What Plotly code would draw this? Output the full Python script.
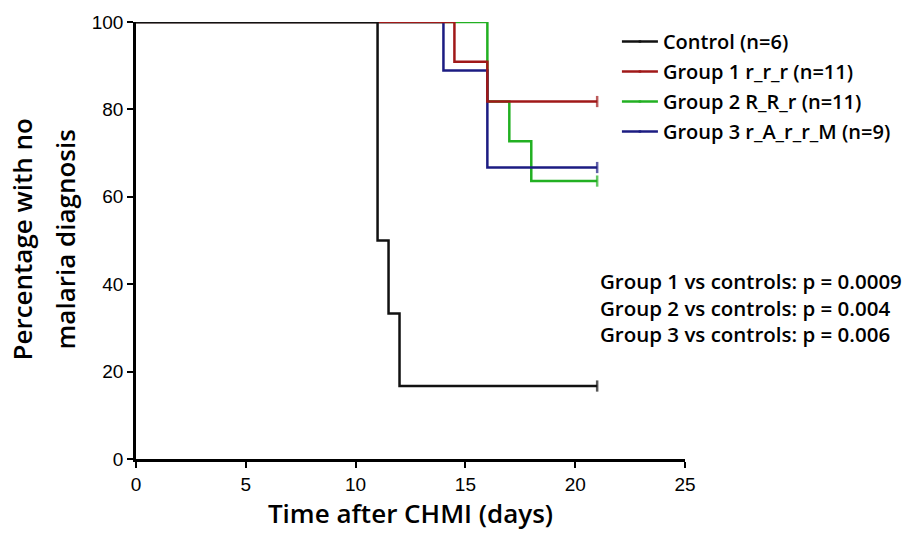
import plotly.graph_objects as go

# Kaplan-Meier step data (days, percentage with no malaria diagnosis)
control_t = [0, 11, 11.5, 12, 21]
control_s = [100, 50, 33.3, 16.7, 16.7]

g1_t = [0, 14.5, 16, 21]
g1_s = [100, 90.9, 81.8, 81.8]

g2_t = [0, 16, 17, 18, 21]
g2_s = [100, 81.8, 72.7, 63.6, 63.6]

g3_t = [0, 14, 16, 21]
g3_s = [100, 88.9, 66.7, 66.7]

names = ["Control (n=6)", "Group 1 r_r_r (n=11)", "Group 2 R_R_r (n=11)", "Group 3 r_A_r_r_M (n=9)"]
colors = ["#111111", "#A01818", "#22B022", "#1C1C82"]
pvals = ["Group 1 vs controls: p = 0.0009",
         "Group 2 vs controls: p = 0.004",
         "Group 3 vs controls: p = 0.006"]
y_title_lines = ["Percentage with no", "malaria diagnosis"]

series = [(control_t, control_s), (g1_t, g1_s), (g2_t, g2_s), (g3_t, g3_s)]
draw_order = [2, 3, 1, 0]

TXT = "Open Sans"
L, T, W, H = 136, 19, 549, 440

fig = go.Figure()
for i in draw_order:
    t, s = series[i]
    n = len(t)
    fig.add_trace(go.Scatter(
        x=t, y=s, name=names[i], mode="lines+markers", line_shape="hv",
        line=dict(color=colors[i], width=2.5),
        marker=dict(symbol="line-ns", size=[0] * (n - 1) + [8],
                    line=dict(color=colors[i], width=2.5)),
        legendrank=i + 1, legendgroup="g%d" % i,
    ))

fig.update_layout(
    width=909, height=535,
    margin=dict(l=L, r=909 - L - W, t=T, b=535 - T - H),
    plot_bgcolor="white", paper_bgcolor="white",
    showlegend=True,
    legend=dict(x=0.876, y=1.0, xanchor="left", yanchor="top",
                font=dict(family=TXT, size=20, color="black", weight=600),
                itemwidth=36, tracegroupgap=1, traceorder="grouped",
                bgcolor="rgba(0,0,0,0)"),
    xaxis=dict(range=[0, 25], tickvals=[0, 5, 10, 15, 20, 25],
               showgrid=False, zeroline=False, showline=True, linecolor="black", linewidth=2.5,
               ticks="outside", ticklen=6, tickwidth=2, tickcolor="black",
               tickfont=dict(family="Liberation Sans", size=19, color="black"),
               title=dict(text="Time after CHMI (days)", standoff=10,
                          font=dict(family=TXT, size=26, color="black", weight=600))),
    yaxis=dict(range=[0, 100], tickvals=[0, 20, 40, 60, 80, 100],
               showgrid=False, zeroline=False, showline=True, linecolor="black", linewidth=2.5,
               ticks="outside", ticklen=6, tickwidth=2, tickcolor="black",
               tickfont=dict(family="Liberation Sans", size=19, color="black")),
)

for k, txt in enumerate(y_title_lines):
    fig.add_annotation(x=((22 + 43 * k) - L) / W, xref="paper",
                       y=(T + H - 238) / H, yref="paper",
                       xanchor="center", yanchor="middle", textangle=-90,
                       text=txt, showarrow=False,
                       font=dict(family=TXT, size=26, color="black", weight=600))

fig.add_annotation(x=(598 - L) / W, xref="paper",
                   y=(T + H - 306) / H, yref="paper",
                   xanchor="left", yanchor="middle",
                   text="<br>".join(pvals), showarrow=False, align="left",
                   font=dict(family=TXT, size=20.5, color="black", weight=600))

fig.write_html("out.html", config={"displayModeBar": False},
               post_script="document.body.style.margin='0';")
